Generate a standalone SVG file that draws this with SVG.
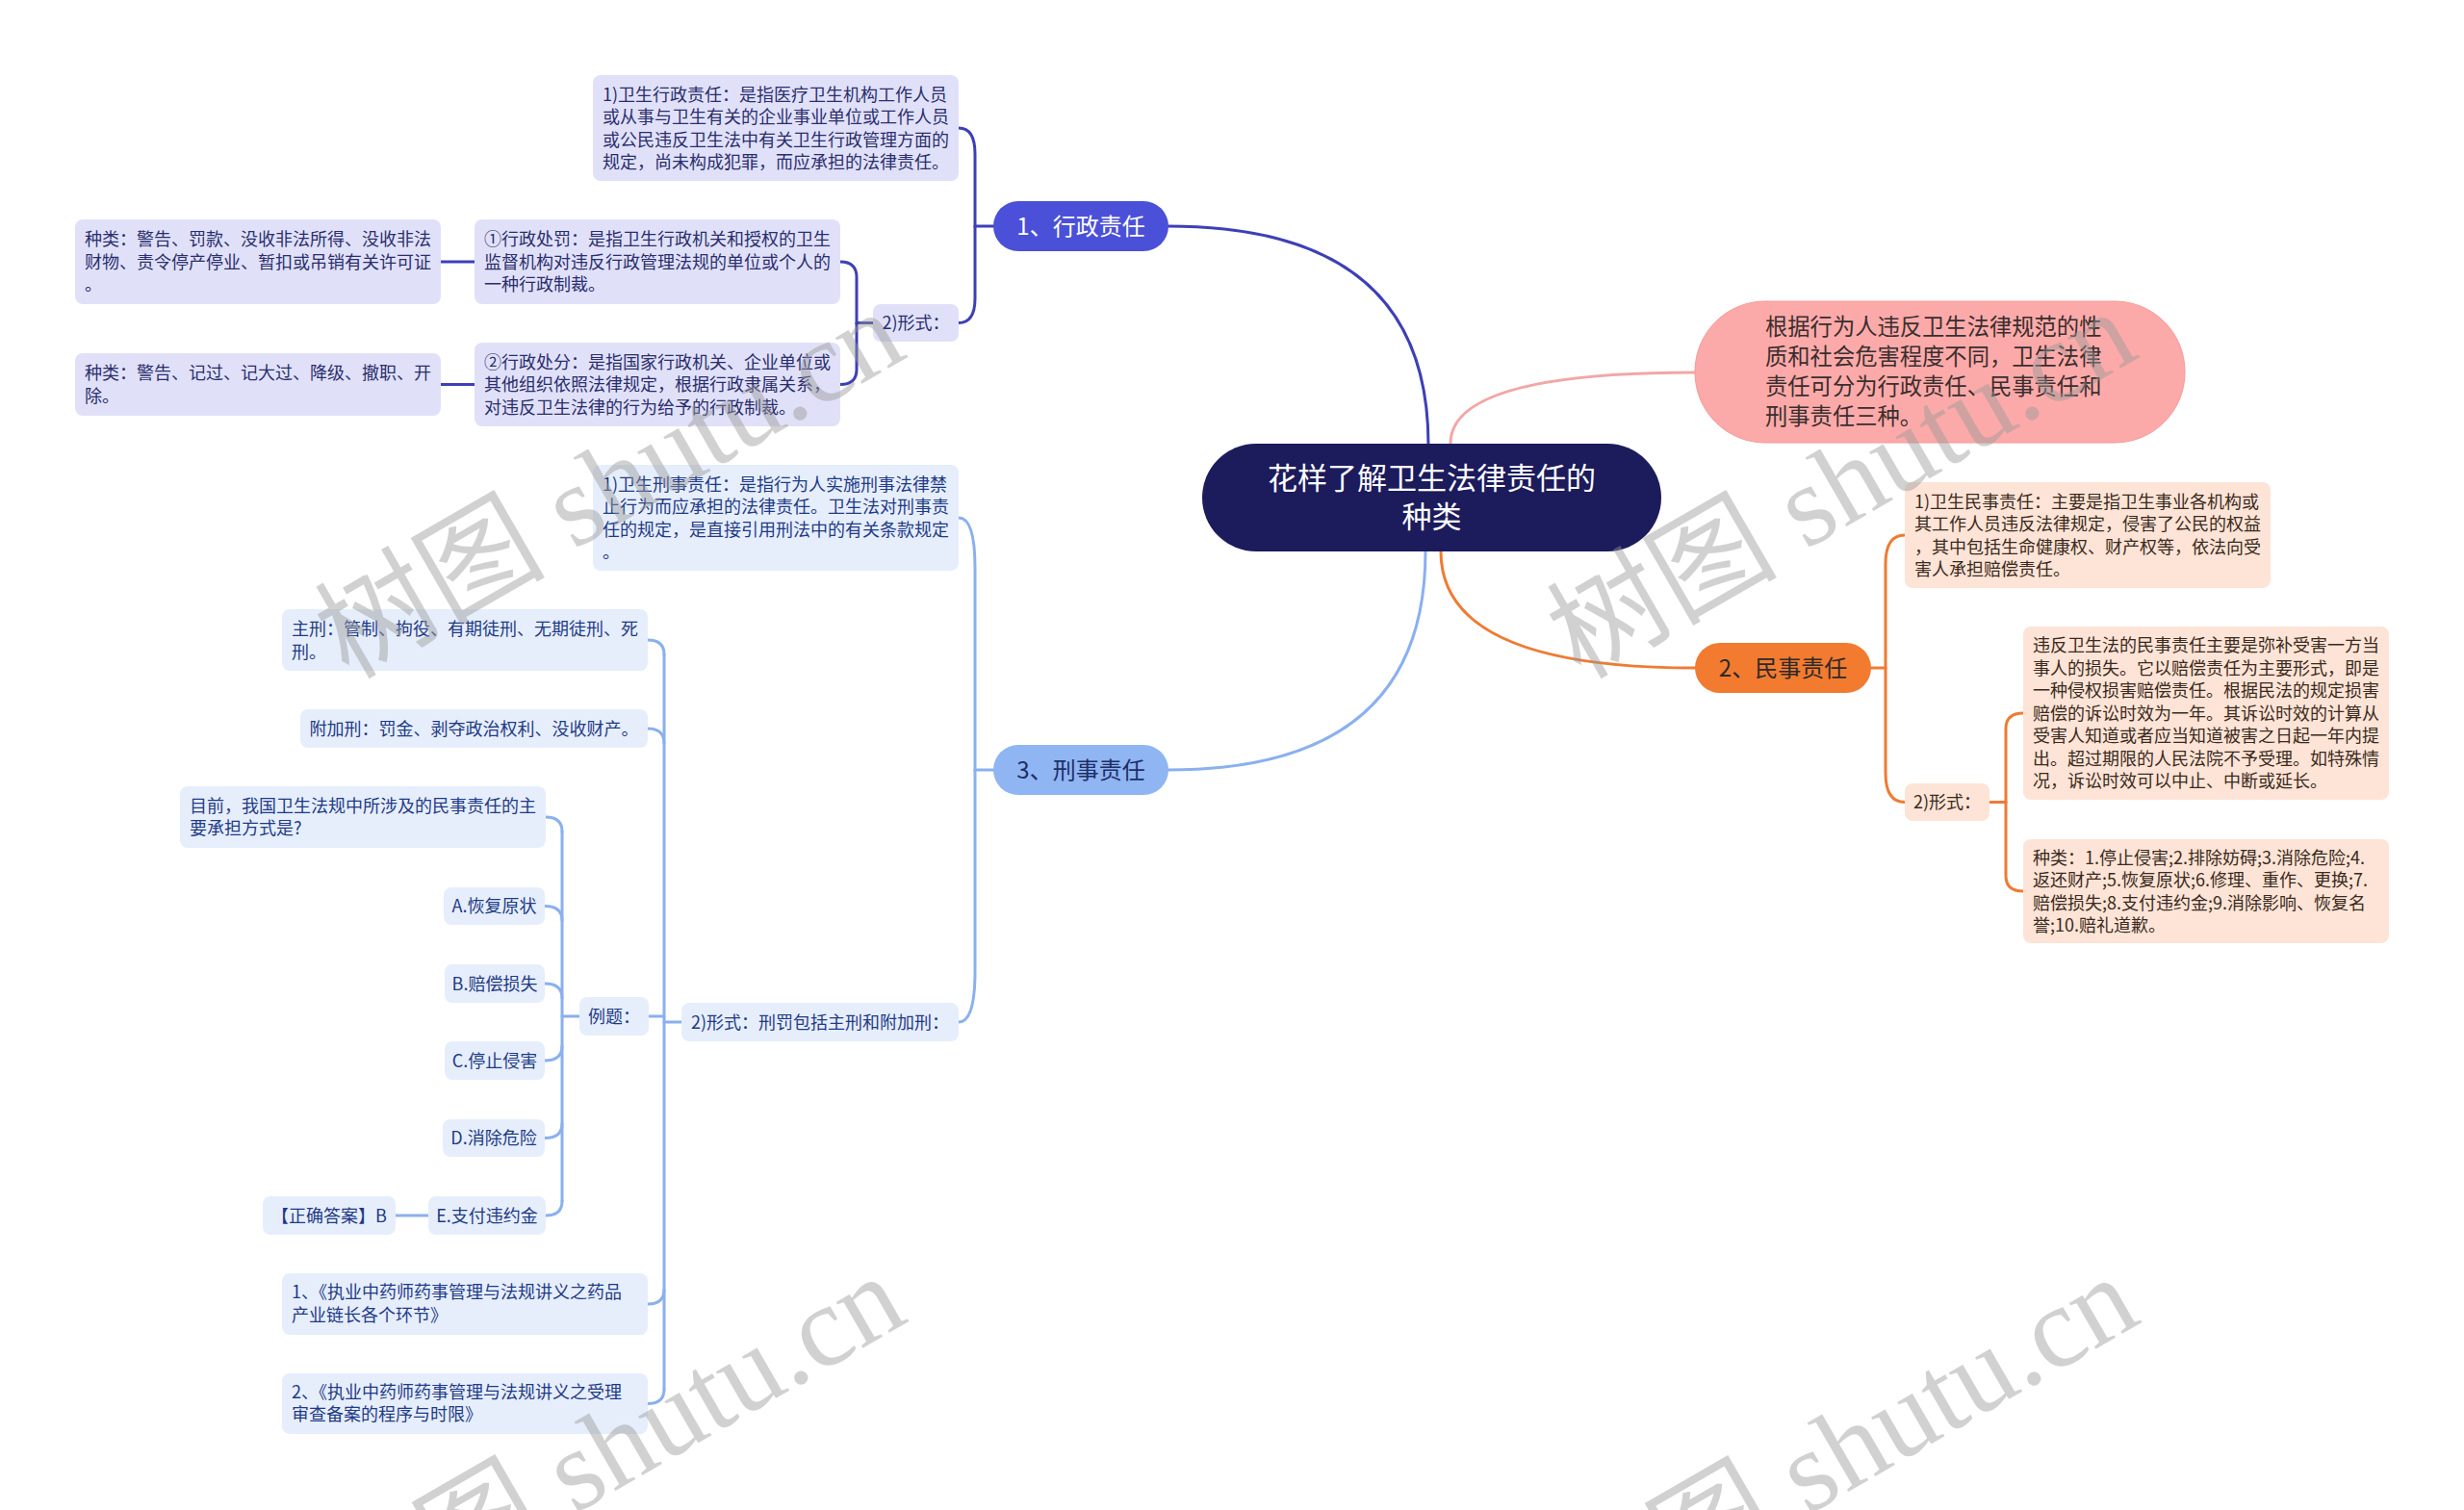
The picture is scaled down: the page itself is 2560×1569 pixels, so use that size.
<svg xmlns="http://www.w3.org/2000/svg" width="2560" height="1569" viewBox="0 0 2560 1569">
<style>
text{font-family:'Noto Sans CJK SC','Noto Sans',sans-serif;}
.root rect{fill:#1c1b5c}
.root text{fill:#ffffff;font-size:31px;text-anchor:middle}
.desc rect{fill:#fcaaa9;stroke:#f39a98;stroke-width:1}
.desc text{fill:#3a2e2e;font-size:23.3px}
.b1 rect{fill:#4b50d8}
.b1 text{fill:#ffffff;font-size:24px;text-anchor:middle}
.b2 rect{fill:#f27b30}
.b2 text{fill:#2e2a28;font-size:24px;text-anchor:middle}
.b3 rect{fill:#8fb5f3}
.b3 text{fill:#1f2f66;font-size:24px;text-anchor:middle}
.lav rect{fill:#e0e1f8}
.lav text{fill:#2b2e6e;font-size:18px}
.pea rect{fill:#fde4d6}
.pea text{fill:#3a2a20;font-size:18px}
.blu rect{fill:#e6eefc}
.blu text{fill:#1f3b86;font-size:18px}
.c{text-anchor:middle}
.edges path{fill:none;stroke-linecap:round}
.e1{stroke:#3d40b5;stroke-width:3}
.e2{stroke:#ef7b33;stroke-width:3}
.e3{stroke:#8ab0ee;stroke-width:3}
.ep{stroke:#f2a6a6;stroke-width:3}
.wm text{font-family:'Liberation Serif','Noto Sans CJK SC',serif;font-size:120px;fill:#9a9a9a;fill-opacity:0.45;text-anchor:end}
</style>
<rect width="2560" height="1569" fill="#ffffff"/>

<g class="edges" id="connectors">
  <path class="e1" d="M1484,462 Q1484,235 1214,235"/>
  <path class="ep" d="M1507,461 Q1507,387 1761,387"/>
  <path class="e2" d="M1497,573 Q1497,694 1761,694"/>
  <path class="e3" d="M1481,573 Q1481,800 1214,800"/>

  <path class="e1" d="M1032,235 H1013 V160 Q1013,133 996,133"/>
  <path class="e1" d="M1013,235 V310 Q1013,335.5 996,335.5"/>
  <path class="e1" d="M907,335.5 H890 V288 Q890,272 873,272"/>
  <path class="e1" d="M890,335.5 V384 Q890,399.5 873,399.5"/>
  <path class="e1" d="M493,272 H458"/>
  <path class="e1" d="M493,399.5 H458"/>

  <path class="e2" d="M1944,694 H1959 V586 Q1959,556 1979,556"/>
  <path class="e2" d="M1959,694 V803 Q1959,833.5 1979,833.5"/>
  <path class="e2" d="M2067,833.5 H2084 V757 Q2084,741 2102,741"/>
  <path class="e2" d="M2084,833.5 V910 Q2084,926 2102,926"/>

  <path class="e3" d="M1032,800 H1013 V590 Q1013,538 996,538"/>
  <path class="e3" d="M1013,800 V1010 Q1013,1062 996,1062"/>
  <path class="e3" d="M708,1062 H690"/>
  <path class="e3" d="M690,680 V1443.5"/>
  <path class="e3" d="M690,680 Q690,665 673,665"/>
  <path class="e3" d="M690,772 Q690,757 673,757"/>
  <path class="e3" d="M674,1056 H690"/>
  <path class="e3" d="M690,1340 Q690,1355 673,1355"/>
  <path class="e3" d="M690,1443.5 Q690,1458.5 673,1458.5"/>
  <path class="e3" d="M602,1056 H584"/>
  <path class="e3" d="M584,864 V1248"/>
  <path class="e3" d="M584,864 Q584,849 567,849"/>
  <path class="e3" d="M584,956.5 Q584,941.5 566,941.5"/>
  <path class="e3" d="M584,1037 Q584,1022 566,1022"/>
  <path class="e3" d="M584,1087 Q584,1102 566,1102"/>
  <path class="e3" d="M584,1167.5 Q584,1182.5 566,1182.5"/>
  <path class="e3" d="M584,1248 Q584,1263 567,1263"/>
  <path class="e3" d="M445,1263 H411"/>
</g>

<g id="root" class="root">
  <rect x="1249" y="461" width="477" height="112" rx="56"/>
  <text x="1487.5" y="508">花样了解卫生法律责任的</text>
  <text x="1487.5" y="548">种类</text>
</g>

<g id="summary" class="desc">
  <rect x="1761" y="313" width="509" height="147" rx="73"/>
  <text x="1834" y="348">根据行为人违反卫生法律规范的性</text>
  <text x="1834" y="379">质和社会危害程度不同，卫生法律</text>
  <text x="1834" y="410">责任可分为行政责任、民事责任和</text>
  <text x="1834" y="441">刑事责任三种。</text>
</g>

<g id="branch-admin" class="b1">
  <rect x="1032" y="209" width="182" height="52" rx="26"/>
  <text x="1123" y="243.5">1、行政责任</text>
</g>
<g id="branch-civil" class="b2">
  <rect x="1761" y="668" width="183" height="52" rx="26"/>
  <text x="1852.5" y="702.5">2、民事责任</text>
</g>
<g id="branch-criminal" class="b3">
  <rect x="1032" y="774" width="182" height="52" rx="26"/>
  <text x="1123" y="808.5">3、刑事责任</text>
</g>

<g id="admin-def" class="lav">
  <rect x="616" y="78" width="380" height="110" rx="8"/>
  <text x="626" y="104.5">1)卫生行政责任：是指医疗卫生机构工作人员</text>
  <text x="626" y="128">或从事与卫生有关的企业事业单位或工作人员</text>
  <text x="626" y="151.5">或公民违反卫生法中有关卫生行政管理方面的</text>
  <text x="626" y="175">规定，尚未构成犯罪，而应承担的法律责任。</text>
</g>
<g id="admin-form" class="lav">
  <rect x="907" y="316" width="89" height="39" rx="8"/>
  <text class="c" x="951.5" y="342">2)形式：</text>
</g>
<g id="admin-penalty" class="lav">
  <rect x="493" y="228" width="380" height="88" rx="8"/>
  <text x="503" y="255">①行政处罚：是指卫生行政机关和授权的卫生</text>
  <text x="503" y="278.5">监督机构对违反行政管理法规的单位或个人的</text>
  <text x="503" y="302">一种行政制裁。</text>
</g>
<g id="admin-sanction" class="lav">
  <rect x="493" y="356" width="380" height="87" rx="8"/>
  <text x="503" y="382.5">②行政处分：是指国家行政机关、企业单位或</text>
  <text x="503" y="406">其他组织依照法律规定，根据行政隶属关系，</text>
  <text x="503" y="429.5">对违反卫生法律的行为给予的行政制裁。</text>
</g>
<g id="admin-penalty-types" class="lav">
  <rect x="78" y="228" width="380" height="88" rx="8"/>
  <text x="88" y="255">种类：警告、罚款、没收非法所得、没收非法</text>
  <text x="88" y="278.5">财物、责令停产停业、暂扣或吊销有关许可证</text>
  <text x="88" y="302">。</text>
</g>
<g id="admin-sanction-types" class="lav">
  <rect x="78" y="367" width="380" height="65" rx="8"/>
  <text x="88" y="394">种类：警告、记过、记大过、降级、撤职、开</text>
  <text x="88" y="417.5">除。</text>
</g>

<g id="civil-def" class="pea">
  <rect x="1979" y="501" width="380" height="110" rx="8"/>
  <text x="1989" y="527.5">1)卫生民事责任：主要是指卫生事业各机构或</text>
  <text x="1989" y="551">其工作人员违反法律规定，侵害了公民的权益</text>
  <text x="1989" y="574.5">，其中包括生命健康权、财产权等，依法向受</text>
  <text x="1989" y="598">害人承担赔偿责任。</text>
</g>
<g id="civil-form" class="pea">
  <rect x="1979" y="814" width="88" height="39" rx="8"/>
  <text class="c" x="2023" y="840">2)形式：</text>
</g>
<g id="civil-detail" class="pea">
  <rect x="2102" y="651" width="380" height="180" rx="8"/>
  <text x="2112" y="677">违反卫生法的民事责任主要是弥补受害一方当</text>
  <text x="2112" y="700.5">事人的损失。它以赔偿责任为主要形式，即是</text>
  <text x="2112" y="724">一种侵权损害赔偿责任。根据民法的规定损害</text>
  <text x="2112" y="747.5">赔偿的诉讼时效为一年。其诉讼时效的计算从</text>
  <text x="2112" y="771">受害人知道或者应当知道被害之日起一年内提</text>
  <text x="2112" y="794.5">出。超过期限的人民法院不予受理。如特殊情</text>
  <text x="2112" y="818">况，诉讼时效可以中止、中断或延长。</text>
</g>
<g id="civil-types" class="pea">
  <rect x="2102" y="872" width="380" height="108" rx="8"/>
  <text x="2112" y="897.5">种类：1.停止侵害;2.排除妨碍;3.消除危险;4.</text>
  <text x="2112" y="921">返还财产;5.恢复原状;6.修理、重作、更换;7.</text>
  <text x="2112" y="944.5">赔偿损失;8.支付违约金;9.消除影响、恢复名</text>
  <text x="2112" y="968">誉;10.赔礼道歉。</text>
</g>

<g id="crim-def" class="blu">
  <rect x="616" y="483" width="380" height="110" rx="8"/>
  <text x="626" y="509.5">1)卫生刑事责任：是指行为人实施刑事法律禁</text>
  <text x="626" y="533">止行为而应承担的法律责任。卫生法对刑事责</text>
  <text x="626" y="556.5">任的规定，是直接引用刑法中的有关条款规定</text>
  <text x="626" y="580">。</text>
</g>
<g id="crim-form" class="blu">
  <rect x="708" y="1042" width="288" height="40" rx="8"/>
  <text class="c" x="852" y="1068.5">2)形式：刑罚包括主刑和附加刑：</text>
</g>
<g id="crim-main" class="blu">
  <rect x="293" y="633" width="380" height="64" rx="8"/>
  <text x="303" y="660">主刑：管制、拘役、有期徒刑、无期徒刑、死</text>
  <text x="303" y="683.5">刑。</text>
</g>
<g id="crim-extra" class="blu">
  <rect x="312" y="737" width="361" height="40" rx="8"/>
  <text class="c" x="492.5" y="763.5">附加刑：罚金、剥夺政治权利、没收财产。</text>
</g>
<g id="crim-example" class="blu">
  <rect x="602" y="1036" width="72" height="40" rx="8"/>
  <text class="c" x="638" y="1062.5">例题：</text>
</g>
<g id="ex-question" class="blu">
  <rect x="187" y="817" width="380" height="64" rx="8"/>
  <text x="197" y="843.5">目前，我国卫生法规中所涉及的民事责任的主</text>
  <text x="197" y="867">要承担方式是?</text>
</g>
<g id="ex-a" class="blu">
  <rect x="461" y="922" width="105" height="39" rx="8"/>
  <text class="c" x="513.5" y="948">A.恢复原状</text>
</g>
<g id="ex-b" class="blu">
  <rect x="462" y="1002" width="104" height="40" rx="8"/>
  <text class="c" x="514" y="1028.5">B.赔偿损失</text>
</g>
<g id="ex-c" class="blu">
  <rect x="462" y="1082" width="104" height="40" rx="8"/>
  <text class="c" x="514" y="1108.5">C.停止侵害</text>
</g>
<g id="ex-d" class="blu">
  <rect x="460" y="1163" width="106" height="39" rx="8"/>
  <text class="c" x="513" y="1189">D.消除危险</text>
</g>
<g id="ex-e" class="blu">
  <rect x="445" y="1243" width="122" height="40" rx="8"/>
  <text class="c" x="506" y="1269.5">E.支付违约金</text>
</g>
<g id="ex-answer" class="blu">
  <rect x="273" y="1243" width="138" height="40" rx="8"/>
  <text class="c" x="342" y="1269.5">【正确答案】B</text>
</g>
<g id="ref-1" class="blu">
  <rect x="293" y="1323" width="380" height="64" rx="8"/>
  <text x="303" y="1349">1、《执业中药师药事管理与法规讲义之药品</text>
  <text x="303" y="1372.5">产业链长各个环节》</text>
</g>
<g id="ref-2" class="blu">
  <rect x="293" y="1427" width="380" height="63" rx="8"/>
  <text x="303" y="1452.5">2、《执业中药师药事管理与法规讲义之受理</text>
  <text x="303" y="1476">审查备案的程序与时限》</text>
</g>

<g class="wm" id="watermark">
  <text transform="translate(945,370) rotate(-30)">树图 shutu.cn</text>
  <text transform="translate(2225,370) rotate(-30)">树图 shutu.cn</text>
  <text transform="translate(946,1372) rotate(-30)">树图 shutu.cn</text>
  <text transform="translate(2227,1373) rotate(-30)">树图 shutu.cn</text>
</g>
</svg>
